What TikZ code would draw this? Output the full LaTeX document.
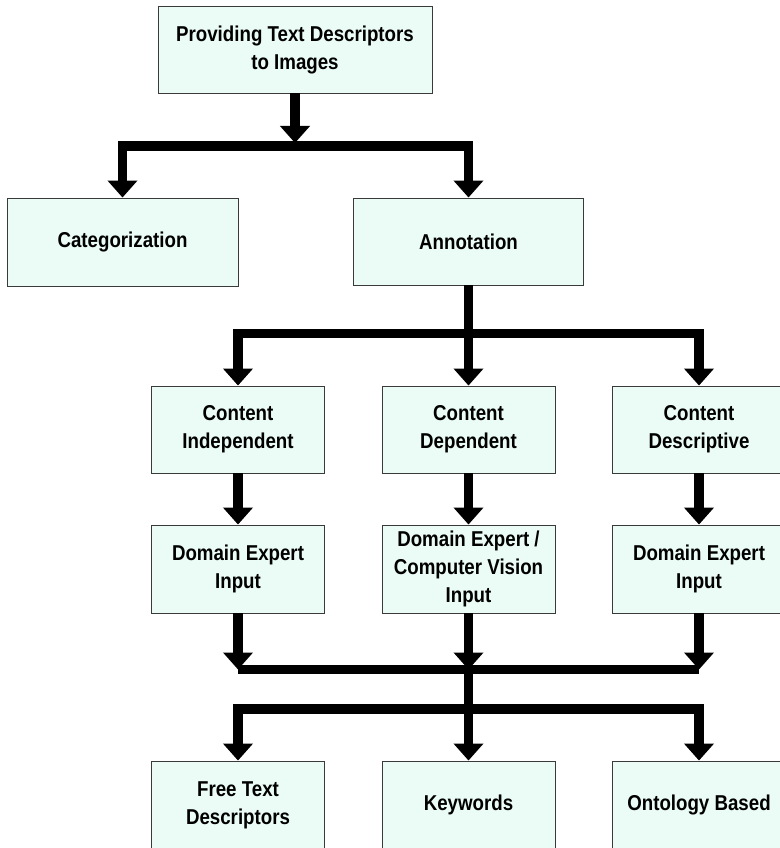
\documentclass[tikz,border=0pt]{standalone}
\usepackage{fontspec}
\setmainfont{Liberation Sans}[FakeStretch=0.87]
\usetikzlibrary{arrows.meta}
\definecolor{boxfill}{HTML}{EAFCF5}
\definecolor{boxline}{HTML}{3A3A3A}
\tikzset{
  stepbox/.style={draw=boxline, line width=0.9pt, fill=boxfill, align=center,
    inner sep=0pt, minimum width=173pt, minimum height=88pt,
    font=\fontsize{21.5}{28}\selectfont\bfseries},
  flow/.style={line width=9.5pt, line join=miter, -{Triangle[width=29pt,length=17pt]}},
  rail/.style={line width=9.5pt, line join=miter}
}
\begin{document}
\begin{tikzpicture}[x=1pt,y=-1pt]
\useasboundingbox (0,0) rectangle (779,848);

% top level
\node[stepbox, minimum width=274pt, minimum height=87pt] (root) at (295,49.5)
  {Providing Text Descriptors\\to Images};
\node[stepbox, minimum width=231pt] (cat) at (122.5,242) {Categorization};
\node[stepbox, minimum width=230pt, minimum height=87pt] (ann) at (468.5,241.5) {Annotation};

% second level
\node[stepbox, minimum height=87pt] (ci) at (238,429.5) {Content\\Independent};
\node[stepbox, minimum height=87pt] (cd) at (468.5,429.5) {Content\\Dependent};
\node[stepbox, minimum height=87pt] (cs) at (699,429.5) {Content\\Descriptive};

% inputs
\node[stepbox] (di) at (238,569) {Domain Expert\\Input};
\node[stepbox] (dv) at (468.5,569) {Domain Expert /\\Computer Vision\\Input};
\node[stepbox] (ds) at (699,569) {Domain Expert\\Input};

% descriptor types
\node[stepbox] (ft) at (238,805) {Free Text\\Descriptors};
\node[stepbox] (kw) at (468.5,805) {Keywords};
\node[stepbox] (on) at (699,805) {Ontology Based};

% junction points on the rails
\coordinate (j1) at (295,146);
\coordinate (j1top) at (295,143);
\coordinate (j2) at (468.5,333.5);
\coordinate (j3l) at (238,669.5);
\coordinate (j3) at (468.5,669.5);
\coordinate (j3r) at (699,669.5);
\coordinate (j4) at (468.5,709);

% root splits into categorization and annotation
\draw[flow] (root.south) -- (j1top);
\draw[flow] (j1) -| (cat.north);
\draw[flow] (j1) -| (ann.north);

% annotation splits into three kinds
\draw[flow] (ann.south) -- (j2) -| (ci.north);
\draw[flow] (ann.south) -- (cd.north);
\draw[flow] (j2) -| (cs.north);

% each kind leads to its input
\draw[flow] (ci.south) -- (di.north);
\draw[flow] (cd.south) -- (dv.north);
\draw[flow] (cs.south) -- (ds.north);

% inputs merge on one rail
\draw[flow] (di.south) -- (j3l);
\draw[flow] (dv.south) -- (j3);
\draw[flow] (ds.south) -- (j3r);
\draw[rail] (j3l) -- (j3r);

% rail splits into descriptor types
\draw[flow] (j3) -- (j4) -| (ft.north);
\draw[flow] (j4) -- (kw.north);
\draw[flow] (j4) -| (on.north);
\end{tikzpicture}
\end{document}
